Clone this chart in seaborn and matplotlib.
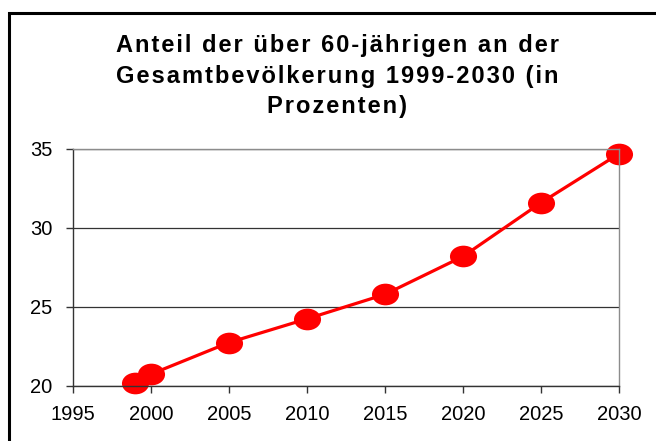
import matplotlib
matplotlib.use("Agg")
import numpy as np
import seaborn as sns
import matplotlib.pyplot as plt
from matplotlib.path import Path
from matplotlib.patches import Rectangle

years = [1999, 2000, 2005, 2010, 2015, 2020, 2025, 2030]
anteil = [20.2, 20.75, 22.75, 24.25, 25.8, 28.2, 31.6, 34.7]
title_lines = ["Anteil der über 60-jährigen an der",
               "Gesamtbevölkerung 1999-2030 (in",
               "Prozenten)"]

sns.set_style("white")
plt.rcParams["font.family"] = ["Liberation Sans", "DejaVu Sans"]

def spaced(s):
    # imitate the wide letter spacing of the original title
    return "\u200a".join(s)

# slightly flattened circle as marker
circ = Path.unit_circle()
ellipse = Path(circ.vertices * np.array([1.0, 0.8]), circ.codes)

fig = plt.figure(figsize=(6.56, 4.41), dpi=100)
ax = fig.add_axes([73/656, 1-386/441, (619-73)/656, (386-149)/441])

sns.lineplot(x=years, y=anteil, ax=ax, color="#ff0000", linewidth=2.3,
             marker=ellipse, markersize=19.5, markeredgewidth=0, clip_on=False)

ax.set_xlim(1995, 2030)
ax.set_ylim(20, 35)
ax.set_xticks(range(1995, 2031, 5))
ax.set_yticks(range(20, 36, 5))
ax.yaxis.grid(True, color="#333333", linewidth=0.9)
ax.set_axisbelow(True)
for side in ["left", "bottom"]:
    ax.spines[side].set_color("#333333")
    ax.spines[side].set_linewidth(1.0)
for side in ["top", "right"]:
    ax.spines[side].set_color("#8c8c8c")
    ax.spines[side].set_linewidth(1.0)
ax.tick_params(axis="both", direction="out", length=5, width=1, color="#333333",
               labelsize=14.5, labelcolor="black", bottom=True, left=True)
ax.tick_params(axis="x", pad=9)
ax.tick_params(axis="y", pad=10)
ax.set_xlabel("")
ax.set_ylabel("")

fig.text(337/656, 1-76/441, "\n".join(spaced(l) for l in title_lines),
         ha="center", va="center", multialignment="center", color="black",
         fontsize=17, fontweight="bold", linespacing=1.4)

fig.patches.append(Rectangle((8.5/656, -0.1), 1.2, 1-12.5/441+0.1,
                             transform=fig.transFigure, fill=False,
                             edgecolor="black", linewidth=2.2))

fig.savefig("out.png", dpi=100)
